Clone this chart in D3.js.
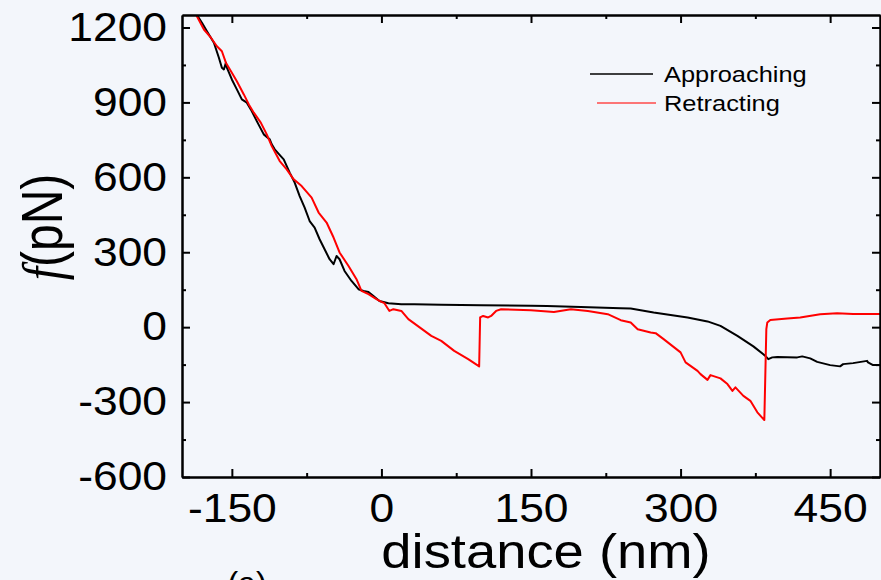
<!DOCTYPE html>
<html>
<head>
<meta charset="utf-8">
<script src="https://cdn.jsdelivr.net/npm/d3@7"></script>
<style>
  body { margin: 0; background: #f3f6fb; }
  svg { display: block; }
  text { font-family: "Liberation Sans", Arial, sans-serif; }
</style>
</head>
<body>
<div id="chart"></div>
<script>
// data: distance in nm, force in pN
const approachX = [-185,-180,-175,-168,-163,-160,-158,-156,-155,-150,-145,-140,-135,-131,-125,-118,-112,-110,-107,-101,-98,-92,-87,-82,-77,-72,-67,-62,-57,-52,-48,-45,-42,-37,-30,-23,-18,-13,-8,-2,7,20,33,60,100,150,166,200,240,250,273,307,327,340,357,373,385,388,392,397,417,422,430,437,450,460,463,473,487,488,493,500];
const approachF = [1250,1219,1185,1139,1079,1039,1032,1059,1039,992,952,912,899,872,825,772,752,732,712,685,672,619,579,525,479,425,399,352,312,272,252,285,272,225,185,152,145,141,125,105,96,92,92,90,88,86,85,81,76,75,59,39,23,5,-35,-77,-115,-128,-121,-119,-121,-117,-125,-139,-152,-157,-148,-144,-135,-141,-152,-152];

const retractX = [-186,-178,-171,-165,-160,-156,-150,-145,-138,-133,-128,-121,-115,-110,-102,-95,-88,-80,-70,-63,-55,-48,-42,-33,-25,-20,-13,-5,0,3,8,12,20,27,50,60,73,87,98,99,102,107,110,115,120,150,173,190,207,227,240,250,257,270,275,283,300,305,317,320,327,330,340,347,352,355,363,370,377,384,386,387,390,407,420,440,457,473,500];
const retractF = [1252,1192,1159,1125,1105,1059,1019,985,932,892,859,819,772,725,665,632,592,565,519,459,419,359,299,245,192,145,132,112,101,96,65,72,65,32,-35,-55,-95,-128,-157,39,45,39,45,65,72,68,61,72,65,52,28,19,-8,-21,-24,-48,-101,-141,-175,-188,-211,-192,-205,-228,-255,-241,-275,-295,-341,-372,-8,19,29,35,39,52,56,53,53];

const xTicks = [-150, 0, 150, 300, 450];
const xMinor = [-75, 75, 225, 375];
const yTicks = [-600, -300, 0, 300, 600, 900, 1200];
const yMinor = [-450, -150, 150, 450, 750, 1050];

const seriesNames = ["Approaching", "Retracting"];
const seriesColors = ["#000000", "#ff0000"];

const width = 881, height = 580;
const stretch = "scale(1.11,1)";

const svg = d3.select("#chart").append("svg")
  .attr("width", width)
  .attr("height", height);

svg.append("rect").attr("width", width).attr("height", height).attr("fill", "#f3f6fb");

const x = d3.scaleLinear().domain([-200, 500]).range([182, 880]);
const y = d3.scaleLinear().domain([-600, 1250]).range([477, 15]);

svg.append("clipPath").attr("id", "plot")
  .append("rect")
  .attr("x", 182).attr("y", 15)
  .attr("width", 698).attr("height", 462);

// curves
const line = d3.line().x(d => x(d[0])).y(d => y(d[1]));
const curves = [
  d3.zip(approachX, approachF),
  d3.zip(retractX, retractF)
];
svg.append("g").attr("clip-path", "url(#plot)")
  .selectAll("path")
  .data(curves)
  .join("path")
    .attr("d", line)
    .attr("fill", "none")
    .attr("stroke", (d, i) => seriesColors[i])
    .attr("stroke-width", 2)
    .attr("stroke-linejoin", "round");

// axes, ticks pointing inward
const plain = d => String(d);   // hyphen minus like the original

function styleAxis(g) {
  g.select(".domain").attr("stroke", "#000").attr("stroke-width", 2);
  g.selectAll(".tick line").attr("stroke", "#000").attr("stroke-width", 2);
}

svg.append("g")
  .attr("transform", "translate(0,477)")
  .call(d3.axisBottom(x).tickValues(xTicks).tickSizeInner(-8).tickSizeOuter(0).tickPadding(17).tickFormat(plain))
  .call(styleAxis)
  .call(g => g.selectAll("text")
    .attr("font-size", 40).attr("fill", "#000")
    .attr("font-family", "Liberation Sans, Arial, sans-serif")
    .attr("transform", stretch));

svg.append("g")
  .attr("transform", "translate(0,477)")
  .call(d3.axisBottom(x).tickValues(xMinor).tickSizeInner(-4).tickSizeOuter(0).tickFormat(""))
  .call(styleAxis);

svg.append("g")
  .attr("transform", "translate(0,15)")
  .call(d3.axisTop(x).tickValues(xTicks).tickSizeInner(-8).tickSizeOuter(0).tickFormat(""))
  .call(styleAxis);

svg.append("g")
  .attr("transform", "translate(0,15)")
  .call(d3.axisTop(x).tickValues(xMinor).tickSizeInner(-4).tickSizeOuter(0).tickFormat(""))
  .call(styleAxis);

svg.append("g")
  .attr("transform", "translate(182,0)")
  .call(d3.axisLeft(y).tickValues(yTicks).tickSizeInner(-8).tickSizeOuter(0).tickPadding(13.5).tickFormat(plain))
  .call(styleAxis)
  .call(g => g.selectAll("text")
    .attr("font-size", 40).attr("fill", "#000")
    .attr("font-family", "Liberation Sans, Arial, sans-serif")
    .attr("transform", stretch));

svg.append("g")
  .attr("transform", "translate(182,0)")
  .call(d3.axisLeft(y).tickValues(yMinor).tickSizeInner(-4).tickSizeOuter(0).tickFormat(""))
  .call(styleAxis);

svg.append("g")
  .attr("transform", "translate(880,0)")
  .call(d3.axisRight(y).tickValues(yTicks).tickSizeInner(-8).tickSizeOuter(0).tickFormat(""))
  .call(styleAxis);

svg.append("g")
  .attr("transform", "translate(880,0)")
  .call(d3.axisRight(y).tickValues(yMinor).tickSizeInner(-4).tickSizeOuter(0).tickFormat(""))
  .call(styleAxis);

// axis titles
svg.append("text")
  .attr("transform", "translate(546,568) scale(1.11,1)")
  .attr("text-anchor", "middle")
  .attr("font-size", 49)
  .text("distance (nm)");

const ylab = svg.append("text")
  .attr("transform", "translate(62,227) rotate(-90) scale(1,1.2)")
  .attr("text-anchor", "middle")
  .attr("font-size", 48);
ylab.append("tspan")
  .attr("font-family", "Liberation Serif, Times New Roman, serif")
  .attr("font-style", "italic")
  .text("f");
ylab.append("tspan").text("(pN)");

svg.append("text")
  .attr("x", 247).attr("y", 594)
  .attr("text-anchor", "middle")
  .attr("font-family", "Liberation Serif, Times New Roman, serif")
  .attr("font-size", 32)
  .text("(a)");

// legend
const legendColors = ["#000000", "#ff4a4a"];
const legend = svg.append("g")
  .selectAll("g")
  .data(seriesNames)
  .join("g")
    .attr("transform", (d, i) => `translate(0,${74 + i * 29})`);
legend.append("line")
  .attr("x1", (d, i) => i === 0 ? 590 : 597)
  .attr("x2", (d, i) => i === 0 ? 653 : 656)
  .attr("stroke", (d, i) => legendColors[i])
  .attr("stroke-width", 1.5);
legend.append("text")
  .attr("transform", "translate(664,8) scale(1.13,1)")
  .attr("font-size", 22.5)
  .attr("fill", "#000")
  .text(d => d);
</script>
</body>
</html>
